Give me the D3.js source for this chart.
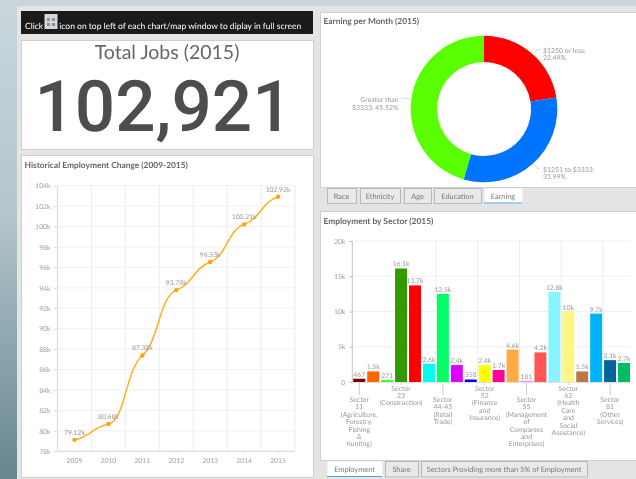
<!DOCTYPE html>
<html><head><meta charset="utf-8">
<script src="https://cdn.jsdelivr.net/npm/d3@7"></script>
<style>
html,body{margin:0;padding:0;background:#e4e4e4;overflow:hidden}
svg{display:block;filter:blur(0.4px)}
text{font-family:Lato,"Open Sans",sans-serif;text-rendering:geometricPrecision}
.axis path{display:none}
</style></head><body>
<script>
// ---- data ----
const years = ["2009","2010","2011","2012","2013","2014","2015"];
const jobs = [79.12,80.68,87.38,93.78,96.53,100.21,102.92];
const yTicksLine = [78,80,82,84,86,88,90,92,94,96,98,100,102,104];
const earnNames = ["$1250 or less","$1251 to $3333","Greater than $3333"];
const earnValues = [22.49,31.99,45.52];
const earnColors = ["#ff0000","#0073ff","#59ff00"];
const sectorValues = [467,1500,271,16100,13700,2600,12500,2400,358,2400,1700,4600,181,4200,12800,10000,1500,9700,3100,2700];
const sectorLabels = ["467","1.5k","271","16.1k","13.7k","2.6k","12.5k","2.4k","358","2.4k","1.7k","4.6k","181","4.2k","12.8k","10k","1.5k","9.7k","3.1k","2.7k"];
const sectorColors = ["#7a0000","#ff6600","#33ff33","#339900","#ff0000","#00ffee","#00ff66","#dd00ff","#0000ff","#ffff00","#ff0099","#ffaa44","#ff88ff","#ff5555","#88f4ff","#fff688","#bb7744","#00b3ff","#006699","#00bb66"];
const sectorCats = [
 ["Sector","11","(Agriculture,","Forestry,","Fishing","&","hunting)"],
 ["Sector","23","(Construction)"],
 ["Sector","44-45","(Retail","Trade)"],
 ["Sector","52","(Finance","and","Insurance)"],
 ["Sector","55","(Management","of","Companies","and","Enterprises)"],
 ["Sector","62","(Health","Care","and","Social","Assistance)"],
 ["Sector","81","(Other","Services)"]];
const tabsTop = ["Race","Ethnicity","Age","Education","Earning"];
const tabsBottom = ["Employment","Share","Sectors Providing more than 5% of Employment"];

// ---- page ----
const svg = d3.select("body").append("svg").attr("width",636).attr("height",479);
const defs = svg.append("defs");
const lg = defs.append("linearGradient").attr("id","side").attr("x1",0).attr("x2",0).attr("y1",0).attr("y2",1);
lg.append("stop").attr("offset",0).attr("stop-color","#c9d7dd");
lg.append("stop").attr("offset",0.45).attr("stop-color","#b3c5cc");
lg.append("stop").attr("offset",1).attr("stop-color","#67868f");
svg.append("rect").attr("width",636).attr("height",479).attr("fill","#e4e4e4");
svg.append("rect").attr("width",636).attr("height",6).attr("fill","#c8d6dc");
svg.append("rect").attr("width",17).attr("height",479).attr("fill","url(#side)");

function panel(x,y,w,h){
  svg.append("rect").attr("x",x+.5).attr("y",y+.5).attr("width",w).attr("height",h)
     .attr("fill","#fff").attr("stroke","#cfcfcf");
}
function title(t,x,y,s){
  svg.append("text").attr("x",x).attr("y",y).text(t).attr("font-size",s)
     .attr("font-weight",700).attr("fill","#666");
}

// banner
svg.append("rect").attr("x",21).attr("y",11).attr("width",292).attr("height",23).attr("fill","#1a1a1a");
svg.append("text").attr("x",25).attr("y",29).attr("font-size",8.5).attr("fill","#fff").text("Click");
const ic = svg.append("g").attr("transform","translate(44.5,14)");
ic.append("rect").attr("width",13).attr("height",15).attr("fill","#d4d8da");
[[2.5,4],[7.5,4],[2.5,9],[7.5,9]].forEach(p=>ic.append("rect").attr("x",p[0]).attr("y",p[1]).attr("width",3).attr("height",3).attr("fill","#8a9499"));
svg.append("text").attr("x",59.3).attr("y",29).attr("font-size",8.5).attr("fill","#fff").text("icon on top left of each chart/map window to diplay in full screen");

// total jobs
panel(21,40,292,109);
svg.append("text").attr("x",167).attr("y",59).attr("text-anchor","middle").attr("font-size",19.5).attr("fill","#666").text("Total Jobs (2015)");
svg.append("text").attr("x",163.5).attr("y",130.5).attr("text-anchor","middle").style("font-family","Roboto").attr("font-weight",500).attr("font-size",71).attr("fill","#4d4d4d").text("102,921");

// line chart
panel(21,155,292,322);
title("Historical Employment Change (2009-2015)",24.5,167.5,8.4);
const lx = d3.scaleBand().domain(years).range([57.5,295]);
const ly = d3.scaleLinear().domain([78,104]).range([451.3,185.7]);
const lg1 = svg.append("g");
lg1.selectAll("line.h").data(yTicksLine).join("line").attr("x1",57.5).attr("x2",295)
  .attr("y1",d=>ly(d)).attr("y2",d=>ly(d)).attr("stroke","#f1f1f1");
lg1.selectAll("line.v").data(years.slice(1).concat("end")).join("line")
  .attr("x1",(d,i)=>lx(years[0])+lx.step()*(i+1)).attr("x2",(d,i)=>lx(years[0])+lx.step()*(i+1))
  .attr("y1",ly(104)).attr("y2",ly(78)).attr("stroke","#ececec");
const ay = svg.append("g").attr("class","axis").attr("transform","translate(57.5,0)")
  .call(d3.axisLeft(ly).tickValues(yTicksLine).tickFormat(d=>d+"k").tickSize(4).tickPadding(3));
const ax = svg.append("g").attr("class","axis").attr("transform","translate(0,451.3)")
  .call(d3.axisBottom(lx).tickSize(2).tickPadding(5));
[ay,ax].forEach(a=>{a.selectAll("text").attr("font-size",6.8).attr("fill","#a0a0a0");a.selectAll("line").attr("stroke","#ddd");});
svg.append("line").attr("x1",57.5).attr("x2",57.5).attr("y1",185.7).attr("y2",451.3).attr("stroke","#dcdcdc").attr("stroke-width",1.2);
svg.append("line").attr("x1",57.5).attr("x2",295).attr("y1",451.3).attr("y2",451.3).attr("stroke","#dcdcdc").attr("stroke-width",1.2);

function softCurve(ctx){
  let pts=[];
  return {
    areaStart(){},areaEnd(){},
    lineStart(){pts=[];},
    point(x,y){pts.push([x,y]);},
    lineEnd(){
      const n=pts.length, s=[];
      for(let i=0;i<n-1;i++) s.push((pts[i+1][1]-pts[i][1])/(pts[i+1][0]-pts[i][0]));
      const m=pts.map((p,i)=>{
        if(i===0) return s[0]*0.4;
        if(i===n-1) return s[n-2]*0.4;
        return 0.45*Math.min(Math.abs(s[i-1]),Math.abs(s[i]))*Math.sign(s[i]);
      });
      ctx.moveTo(pts[0][0],pts[0][1]);
      for(let i=0;i<n-1;i++){
        const d=(pts[i+1][0]-pts[i][0])*0.5;
        ctx.bezierCurveTo(pts[i][0]+d,pts[i][1]+m[i]*d,pts[i+1][0]-d,pts[i+1][1]-m[i+1]*d,pts[i+1][0],pts[i+1][1]);
      }
    }
  };
}
const cx = d=>lx(d)+lx.bandwidth()/2;
svg.append("path").datum(jobs).attr("fill","none").attr("stroke","#ffb020").attr("stroke-width",1.5)
  .attr("d",d3.line().x((d,i)=>cx(years[i])).y(d=>ly(d)).curve(softCurve));
svg.selectAll("circle.p").data(jobs).join("circle").attr("cx",(d,i)=>cx(years[i])).attr("cy",d=>ly(d)).attr("r",2.2).attr("fill","#ffa500");
svg.selectAll("text.p").data(jobs).join("text").attr("x",(d,i)=>cx(years[i])).attr("y",d=>ly(d)-5)
  .attr("text-anchor","middle").attr("font-size",6.8).attr("fill","#999").text(d=>d.toFixed(2)+"k");

// donut
panel(320,12,316,175);
title("Earning per Month (2015)",323.5,24,8.4);
const pie = d3.pie().sort(null)(earnValues);
const arc = d3.arc().innerRadius(47).outerRadius(73.3);
const dg = svg.append("g").attr("transform","translate(484,109)");
dg.selectAll("path").data(pie).join("path").attr("d",arc).attr("fill",(d,i)=>earnColors[i]);
const outer = d3.arc().innerRadius(73.3).outerRadius(73.3);
const leaderEnd = [[57,-60],[55,60],[-83,-11]];
dg.selectAll("path.l").data(pie).join("path").attr("fill","none").attr("stroke","#ccc").attr("stroke-width",.8)
  .attr("d",(d,i)=>{const c=outer.centroid(d),e=leaderEnd[i];return d3.line().curve(d3.curveBumpX)([c,e]);});
const earnText=[
 [`${earnNames[0]}:`,`${earnValues[0]}%`,543,52.5,"start"],
 [`${earnNames[1]}:`,`${earnValues[1]}%`,543,171.5,"start"],
 ["Greater than",`$3333: ${earnValues[2]}%`,398.5,102,"end"]];
earnText.forEach(t=>{[t[0],t[1]].forEach((s,i)=>{
  svg.append("text").attr("x",t[2]).attr("y",t[3]+i*7.6).attr("text-anchor",t[4]).attr("font-size",6.9).attr("fill","#999").text(s);});});

// tabs
function tabs(names,xs,y,h,active){
  names.forEach((n,i)=>{
    const a=i===active,[x0,x1]=xs[i];
    svg.append("rect").attr("x",x0+.5).attr("y",y+.5).attr("width",x1-x0).attr("height",h)
      .attr("fill",a?"#fff":"#e9e9e9").attr("stroke",a?"none":"#b9b9b9");
    if(a) svg.append("line").attr("x1",x0).attr("x2",x1).attr("y1",y+h).attr("y2",y+h).attr("stroke","#4aa3df").attr("stroke-width",1.2);
    svg.append("text").attr("x",(x0+x1)/2).attr("y",y+10.5).attr("text-anchor","middle").attr("font-size",7.4).attr("fill","#777").text(n);
  });
}
tabs(tabsTop,[[327,356],[360,400],[404,431],[434,481],[484,522]],188,15,4);

// bars
panel(320,211,316,249);
title("Employment by Sector (2015)",323.5,223.5,8.4);
const bx = d3.scaleBand().domain(d3.range(sectorValues.length)).range([352.3,631]).paddingInner(0.14).paddingOuter(0.07);
const by = d3.scaleLinear().domain([0,20000]).range([382,241]);
const gridY=[5000,10000,15000,20000];
svg.selectAll("line.gy").data(gridY).join("line").attr("x1",352.3).attr("x2",631).attr("y1",d=>by(d)).attr("y2",d=>by(d)).attr("stroke","#f0f0f0");
const gridCats=[2,3,4,5,6];
const step = bx.step();
svg.selectAll("line.gx").data(gridCats).join("line").attr("x1",d=>352.3+d*3*step).attr("x2",d=>352.3+d*3*step).attr("y1",241).attr("y2",382).attr("stroke","#ececec");
const bAxis = svg.append("g").attr("class","axis").attr("transform","translate(352.3,0)")
  .call(d3.axisLeft(by).tickValues([0,5000,10000,15000,20000]).tickFormat(d=>d===0?"0":(d/1000)+"k").tickSize(3).tickPadding(4));
bAxis.selectAll("text").attr("font-size",6.8).attr("fill","#a0a0a0");
bAxis.selectAll("line").attr("stroke","#bbb");
svg.append("line").attr("x1",352.3).attr("x2",352.3).attr("y1",241).attr("y2",382).attr("stroke","#c4c4c4");
svg.append("line").attr("x1",352.3).attr("x2",631).attr("y1",382.5).attr("y2",382.5).attr("stroke","#e2e2e2");
svg.selectAll("rect.b").data(sectorValues).join("rect").attr("class","b")
  .attr("x",(d,i)=>bx(i)).attr("width",bx.bandwidth()).attr("y",d=>by(d)).attr("height",d=>by(0)-by(d))
  .attr("fill",(d,i)=>sectorColors[i]);
svg.selectAll("text.bl").data(sectorValues).join("text").attr("class","bl")
  .attr("x",(d,i)=>bx(i)+bx.bandwidth()/2).attr("y",d=>by(d)-2).attr("text-anchor","middle")
  .attr("font-size",6.8).attr("fill","#999").text((d,i)=>sectorLabels[i]);
sectorCats.forEach((lines,k)=>{
  const x=bx(k*3)+bx.bandwidth()/2, long=k%2===0, y0=long?402:390.5;
  svg.append("line").attr("x1",x).attr("x2",x).attr("y1",383).attr("y2",long?395:385).attr("stroke","#ccc");
  lines.forEach((s,i)=>svg.append("text").attr("x",x).attr("y",y0+i*7.4).attr("text-anchor","middle").attr("font-size",6.9).attr("fill","#999").text(s));
});
tabs(tabsBottom,[[327,382],[385,418],[421,587]],461,15.5,0);
</script>
</body></html>
